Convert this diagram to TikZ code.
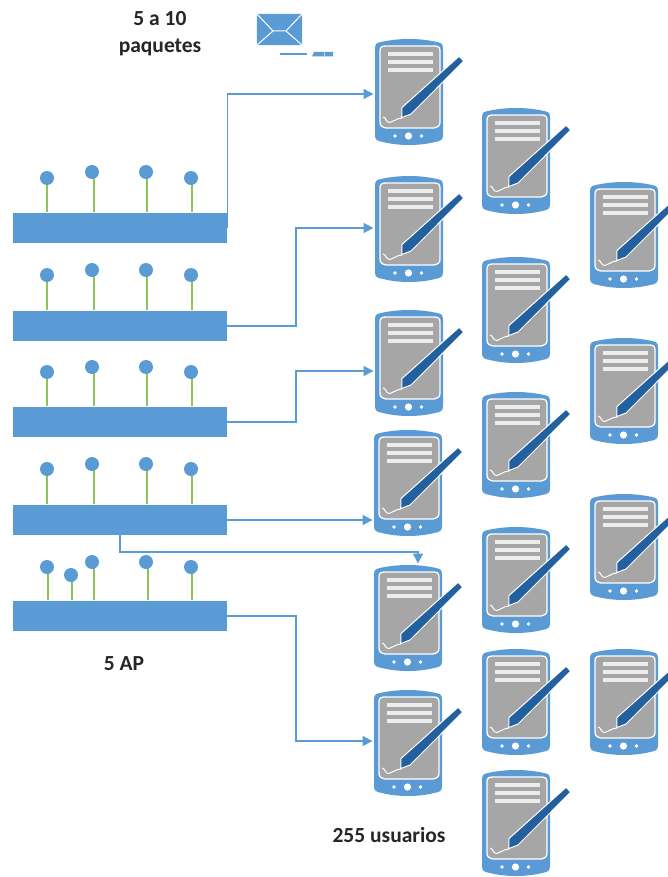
\documentclass[tikz,border=0pt]{standalone}
\usepackage{fontspec}
\setmainfont{Carlito}
\usetikzlibrary{arrows.meta}
\definecolor{officeblue}{HTML}{5B9BD5}
\definecolor{stemgreen}{HTML}{8CC45A}
\definecolor{pendark}{HTML}{22609F}
\definecolor{screengrey}{HTML}{A6A6A6}
\definecolor{linegrey}{HTML}{EDEDED}
\tikzset{
  apbox/.style={fill=officeblue,draw=none,minimum width=214pt,minimum height=30pt,inner sep=0pt,outer sep=0pt},
  devbox/.style={minimum width=68pt,minimum height=106pt,inner sep=0pt,outer sep=0pt},
  link/.style={draw=officeblue,line width=1.4pt,shorten >=1.5pt,-{Triangle[length=10pt,width=10pt]}},
  label/.style={font=\bfseries\fontsize{21.5}{24}\selectfont,text=black!85,inner sep=0pt},
  ball/.style={fill=officeblue,draw=none},
  stem/.style={draw=stemgreen,line width=2.4pt}
}
\newcommand{\device}[3]{%
  \begin{scope}[shift={(#2,#3)}]
    \fill[officeblue] (0,10) .. controls (0,4) and (2,4) .. (6,3) .. controls (24,-1) and (44,-1) .. (62,3) .. controls (66,4) and (68,4) .. (68,10)
      -- (68,96) .. controls (68,101) and (66,102) .. (60,103) .. controls (44,107) and (24,107) .. (8,103) .. controls (2,102) and (0,101) .. (0,96) -- cycle;
    \fill[screengrey,draw=white,line width=1.3pt] (5,12) .. controls (5,8) and (7,7) .. (11,7) -- (59,7) .. controls (63,7) and (65,8) .. (65,12)
      -- (65,83) .. controls (65,87) and (63,88) .. (59,89) -- (11,89) .. controls (7,88) and (5,87) .. (5,83) -- cycle;
    \foreach \yy in {15,23,31}{\draw[linegrey,line width=3.6pt] (13,\yy) -- (58,\yy);}
    \draw[white,line width=1pt] (8,78) .. controls (11,78) and (11,84) .. (15,83.5) .. controls (19,83) and (19,80) .. (27,79);
    \fill[pendark,draw=white,line width=1pt,line join=round] (26.7,78.6) -- (27,68.5) -- (84.2,17.2) -- (88.7,22.2) -- (36,75) -- cycle;
    \fill[white] (20,97) circle (1.8) (33.5,97) circle (3.6) (46.5,97) circle (1.8);
    \node[devbox] (#1) at (34,53) {};
  \end{scope}}
\newcommand{\antenna}[4]{%
  \draw[stem] (#3,#4) -- (#3,#2);
  \fill[ball] (#1,#2) circle (7);}
\begin{document}
\begin{tikzpicture}[x=1pt,y=-1pt]
\useasboundingbox (0,0) rectangle (668,877);
\clip (0,0) rectangle (668,877);
\fill[white] (0,0) rectangle (668,877);

% access points
\node[apbox] (ap1) at (120,228) {};
\node[apbox] (ap2) at (120,326) {};
\node[apbox] (ap3) at (120,422) {};
\node[apbox] (ap4) at (120,520) {};
\node[apbox] (ap5) at (120,616) {};

\antenna{47}{178}{47}{212}\antenna{92}{172}{94}{212}\antenna{146}{172}{147}{212}\antenna{191}{178}{192}{212}
\antenna{47}{275}{47}{310}\antenna{92}{270}{94}{310}\antenna{146}{270}{147}{310}\antenna{191}{275}{192}{310}
\antenna{47}{372}{47}{406}\antenna{92}{367}{94}{406}\antenna{146}{367}{147}{406}\antenna{191}{372}{192}{406}
\antenna{47}{469}{47}{504}\antenna{92}{464}{94}{504}\antenna{146}{464}{147}{504}\antenna{191}{469}{192}{504}
\antenna{47}{567}{48}{600}\antenna{71}{575}{72}{600}\antenna{92}{562}{94}{600}\antenna{146}{562}{148}{600}\antenna{191}{567}{192}{600}

% devices
\device{d1}{375}{39}
\device{d2}{375}{176}
\device{d3}{375}{310}
\device{d4}{374}{430}
\device{d5}{374}{565}
\device{d6}{374}{690}
\device{e1}{482}{108}
\device{e2}{482}{257}
\device{e3}{482}{392}
\device{e4}{482}{527}
\device{e5}{482}{649}
\device{e6}{482}{770}
\device{f1}{590}{182}
\device{f2}{590}{338}
\device{f3}{590}{494}
\device{f4}{590}{649}

% connectors
\coordinate (m1) at (227.5,94);
\coordinate (m2) at (296,228);
\coordinate (m3) at (296,371);
\coordinate (m5) at (296,741);
\coordinate (b4) at (120,552);
\coordinate (c4) at (418,552);
\draw[link] (m1 |- ap1.east) -- (m1) -- (m1 -| d1.west);
\draw[link] (ap2.east) -| (m2) -- (m2 -| d2.west);
\draw[link] (ap3.east) -| (m3) -- (m3 -| d3.west);
\draw[link] (ap4.east) -- (ap4.east -| d4.west);
\draw[link] (ap4.south -| b4) -- (b4) -- (c4) -- (c4 |- d5.north);
\draw[link] (ap5.east) -| (m5) -- (m5 -| d6.west);

% envelope
\node[minimum width=45pt,minimum height=31pt,inner sep=0pt] (env) at (279.5,29.5) {};
\fill[officeblue,rounded corners=2pt] (env.north west) rectangle (env.south east);
\draw[white,line width=1pt] (env.north west) -- (273,31) -- (286,31) -- (env.north east);
\draw[white,line width=1pt] (env.south west) -- (273,31) (286,31) -- (env.south east);
\draw[officeblue,line width=1.2pt] (280,54) -- (307,54);
\fill[officeblue] (314,52) -- (333,52) -- (333,56.5) -- (312,56.5) -- cycle;
\draw[white,line width=.5pt] (324,51) -- (325,57);

% texts
\node[label] (t1) at (160,19) {5 a 10};
\node[label] (t2) at (160,47) {paquetes};
\node[label] (t3) at (124,664) {5 AP};
\node[label] (t4) at (389,835) {255 usuarios};
\end{tikzpicture}
\end{document}
